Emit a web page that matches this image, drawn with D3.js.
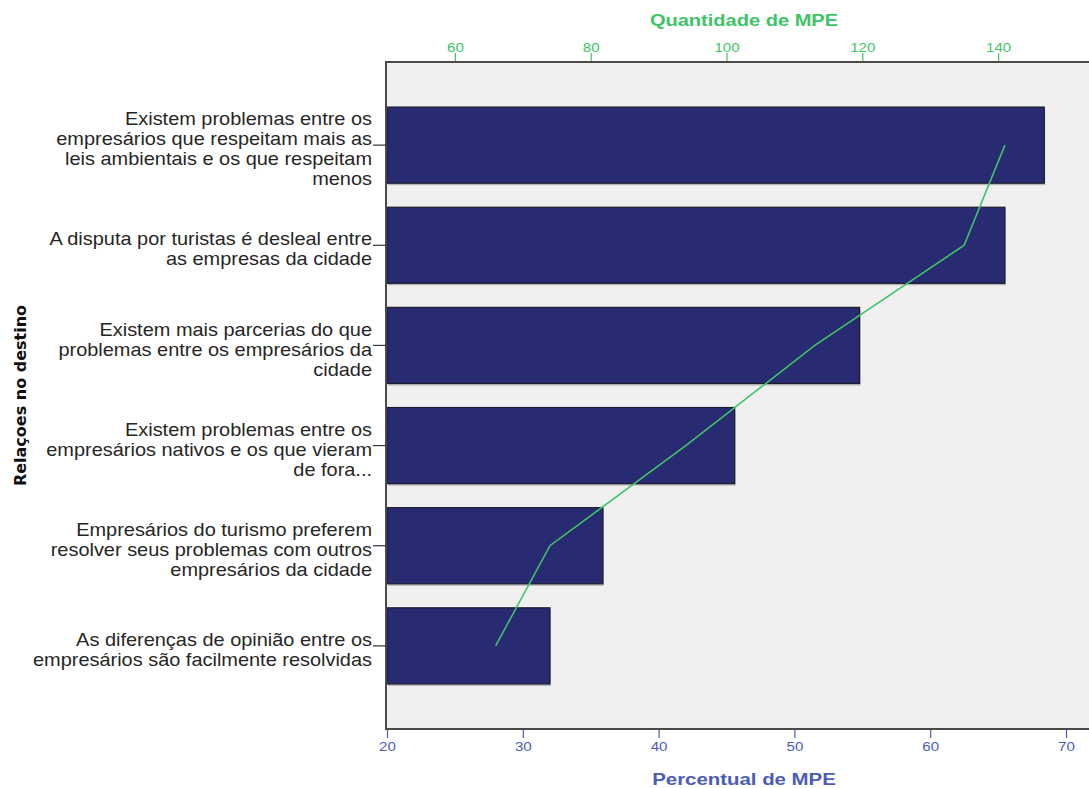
<!DOCTYPE html>
<html>
<head>
<meta charset="utf-8">
<script src="https://cdn.jsdelivr.net/npm/d3@7"></script>
<style>
  html, body { margin: 0; padding: 0; background: #ffffff; }
  svg { display: block; }
</style>
</head>
<body>
<svg id="chart" width="1089" height="788"></svg>
<script>
// ---- data ----
const categories = [
  ["Existem problemas entre os", "empresários que respeitam mais as", "leis ambientais e os que respeitam", "menos"],
  ["A disputa por turistas é desleal entre", "as empresas da cidade"],
  ["Existem mais parcerias do que", "problemas entre os empresários da", "cidade"],
  ["Existem problemas entre os", "empresários nativos e os que vieram", "de fora..."],
  ["Empresários do turismo preferem", "resolver seus problemas com outros", "empresários da cidade"],
  ["As diferenças de opinião entre os", "empresários são facilmente resolvidas"]
];
const percentValues = [68.4, 65.5, 54.8, 45.6, 35.9, 32.0];
const countValues = [141, 135, 113, 94, 74, 66];
const percentTicks = [20, 30, 40, 50, 60, 70];
const countTicks = [60, 80, 100, 120, 140];

// ---- layout ----
const svg = d3.select("#chart");
const pLeft = 387, pRight = 1066, pTop = 62, pBottom = 729;
const font = "'Liberation Sans', Arial, sans-serif";
const stretch = (cx, sx) => `translate(${cx},0) scale(${sx},1) translate(${-cx},0)`;

const x = d3.scaleLinear().domain([20, 70]).range([pLeft, pRight]);
const xTop = d3.scaleLinear().domain([50, 150]).range([pLeft, pRight]);
const y = d3.scaleBand().domain(d3.range(categories.length))
  .range([pTop, pBottom]).paddingInner(0.24).paddingOuter(0.45);

// plot background + frame
svg.append("rect")
  .attr("x", pLeft - 1).attr("y", pTop).attr("width", 1200).attr("height", pBottom - pTop)
  .attr("fill", "#f0f0f0").attr("stroke", "#4a4a4a").attr("stroke-width", 2);

// bars (shadow then bar)
svg.append("g").selectAll("rect").data(percentValues).join("rect")
  .attr("x", x(20) + 1).attr("y", (d, i) => y(i) + 2)
  .attr("width", d => x(d) - x(20)).attr("height", y.bandwidth())
  .attr("fill", "#b8b8b8");
svg.append("g").selectAll("rect").data(percentValues).join("rect")
  .attr("x", x(20)).attr("y", (d, i) => y(i))
  .attr("width", d => x(d) - x(20)).attr("height", y.bandwidth())
  .attr("fill", "#282a72").attr("stroke", "#1c1c2e").attr("stroke-width", 1.2);

// line (counts on top axis)
const line = d3.line()
  .x(d => xTop(d))
  .y((d, i) => y(i) + y.bandwidth() / 2);
svg.append("path").datum(countValues)
  .attr("d", line).attr("fill", "none")
  .attr("stroke", "#3ec466").attr("stroke-width", 1.6);

// redraw left frame line over bars
svg.append("line").attr("x1", pLeft - 1).attr("x2", pLeft - 1).attr("y1", pTop).attr("y2", pBottom)
  .attr("stroke", "#4a4a4a").attr("stroke-width", 2);

// bottom axis
const bottomAxis = d3.axisBottom(x).tickValues(percentTicks).tickSize(8).tickPadding(3).tickFormat(d3.format("d"));
const gb = svg.append("g").attr("transform", `translate(0,${pBottom + 1})`).call(bottomAxis);
gb.select(".domain").remove();
gb.selectAll("line").attr("stroke", "#4a5cb8").attr("stroke-width", 1.2);
gb.selectAll("text").attr("fill", "#4a5cb8").style("font-family", font).style("font-size", "13.5px")
  .attr("transform", "scale(1.12,1)");

// top axis
const topAxis = d3.axisTop(xTop).tickValues(countTicks).tickSize(8).tickPadding(1).tickFormat(d3.format("d"));
const gt = svg.append("g").attr("transform", `translate(0,${pTop - 1})`).call(topAxis);
gt.select(".domain").remove();
gt.selectAll("line").attr("stroke", "#3ec466").attr("stroke-width", 1.2);
gt.selectAll("text").attr("fill", "#3ec466").style("font-family", font).style("font-size", "13.5px")
  .attr("transform", "scale(1.12,1)");

// left category axis ticks
svg.append("g").selectAll("line").data(categories).join("line")
  .attr("x1", pLeft - 14).attr("x2", pLeft - 1)
  .attr("y1", (d, i) => y(i) + y.bandwidth() / 2)
  .attr("y2", (d, i) => y(i) + y.bandwidth() / 2)
  .attr("stroke", "#333").attr("stroke-width", 1.2);

// category labels
const lh = 20;
const lab = svg.append("g").attr("transform", stretch(372, 1.14))
  .selectAll("text").data(categories).join("text")
  .attr("text-anchor", "end")
  .attr("fill", "#262626")
  .style("font-family", font).style("font-size", "17.5px");
lab.each(function(lines, i) {
  const cy = y(i) + y.bandwidth() / 2 + 4;
  const t = d3.select(this);
  lines.forEach((s, k) => {
    t.append("tspan").attr("x", 372)
      .attr("y", cy + (k - (lines.length - 1) / 2) * lh)
      .attr("dy", "0.35em").text(s);
  });
});

// titles
const cxT = 744;
svg.append("text").attr("x", cxT).attr("y", 26)
  .attr("transform", stretch(cxT, 1.18))
  .attr("text-anchor", "middle").attr("fill", "#3ec466")
  .style("font-family", font).style("font-size", "17px").style("font-weight", "bold")
  .text("Quantidade de MPE");
svg.append("text").attr("x", cxT).attr("y", 785)
  .attr("transform", stretch(cxT, 1.2))
  .attr("text-anchor", "middle").attr("fill", "#4a5cb8")
  .style("font-family", font).style("font-size", "17px").style("font-weight", "bold")
  .text("Percentual de MPE");
svg.append("text")
  .attr("transform", `translate(26,${(pTop + pBottom) / 2}) rotate(-90)`)
  .attr("text-anchor", "middle").attr("fill", "#111")
  .style("font-family", "'DejaVu Sans', Verdana, sans-serif").style("font-size", "16px").style("font-weight", "bold")
  .text("Relaçoes no destino");
</script>
</body>
</html>
